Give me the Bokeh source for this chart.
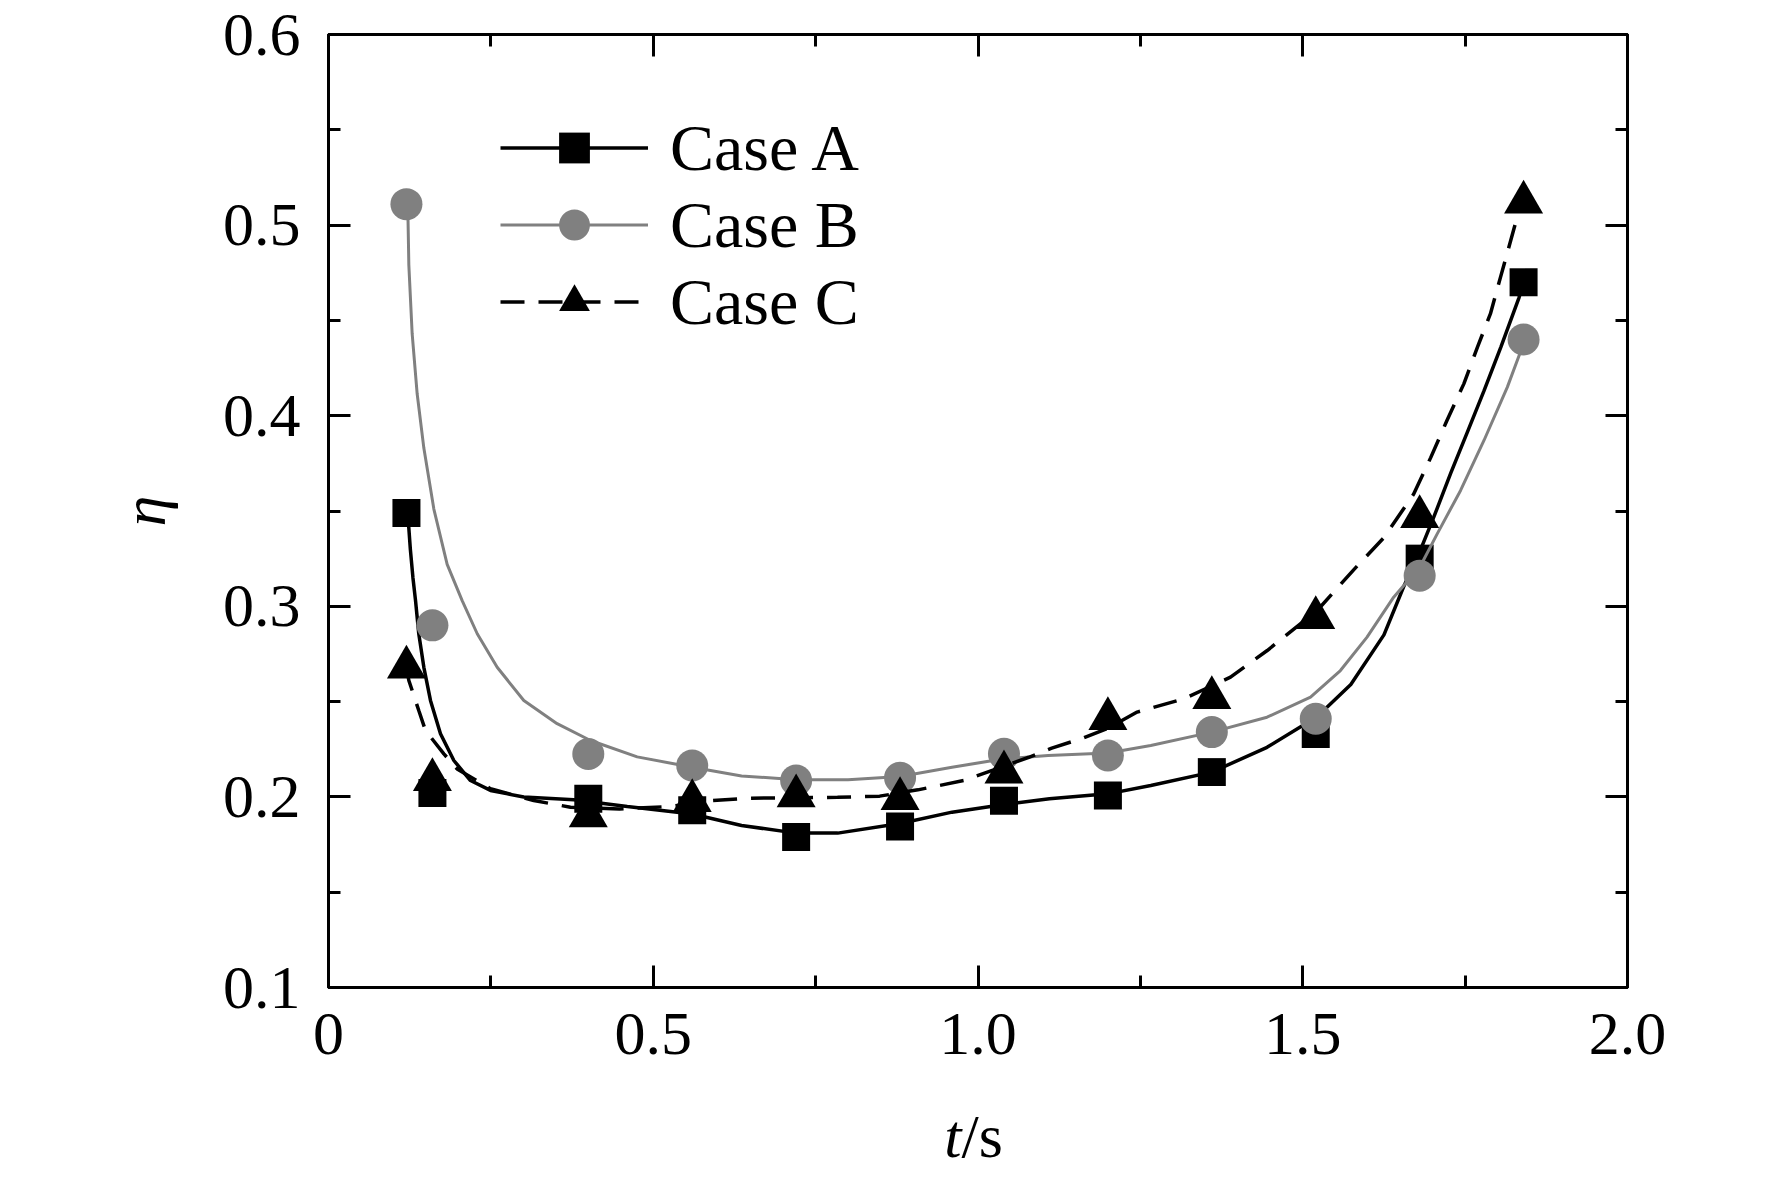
from bokeh.plotting import figure
from bokeh.models import (Range1d, FixedTicker, LinearAxis, Legend, LegendItem,
                          Label, CustomJSTickFormatter)
from bokeh.embed import file_html
from bokeh.resources import INLINE

# ---------------- data ----------------
t = [0.12, 0.16, 0.40, 0.56, 0.72, 0.88, 1.04, 1.20, 1.36, 1.52, 1.68, 1.84]
case_a = [0.349, 0.202, 0.199, 0.193, 0.179, 0.1845, 0.198, 0.2007, 0.213, 0.233, 0.325, 0.470]
case_b = [0.511, 0.290, 0.2225, 0.2165, 0.2086, 0.210, 0.2226, 0.2217, 0.234, 0.241, 0.316, 0.440]
case_c = [0.268, 0.209, 0.190, 0.198, 0.2005, 0.199, 0.213, 0.241, 0.252, 0.294, 0.347, 0.512]

# fitted curves
fit_a_x = [0.122, 0.126, 0.130, 0.134, 0.139, 0.1468, 0.157, 0.1724, 0.193, 0.2186, 0.2494,
           0.3007, 0.3777, 0.46, 0.56, 0.636, 0.72, 0.784, 0.88, 0.96, 1.04, 1.11, 1.20, 1.266,
           1.36, 1.445, 1.522, 1.574, 1.625, 1.655, 1.683, 1.702, 1.728, 1.753, 1.779, 1.805,
           1.833, 1.840]
fit_a_y = [0.349, 0.330, 0.315, 0.303, 0.2856, 0.268, 0.2506, 0.2331, 0.2191, 0.2086, 0.2034,
           0.1999, 0.1985, 0.195, 0.191, 0.185, 0.181, 0.181, 0.186, 0.192, 0.196, 0.199, 0.2016,
           0.206, 0.213, 0.226, 0.242, 0.259, 0.285, 0.310, 0.331, 0.347, 0.370, 0.391, 0.413,
           0.436, 0.462, 0.470]

fit_b_x = [0.122, 0.1237, 0.1288, 0.1365, 0.1468, 0.1622, 0.1827, 0.2058, 0.229, 0.2597,
           0.3007, 0.352, 0.4034, 0.4753, 0.56, 0.636, 0.72, 0.80, 0.88, 0.96, 1.04, 1.108,
           1.20, 1.266, 1.36, 1.445, 1.512, 1.558, 1.599, 1.640, 1.681, 1.707, 1.743, 1.779,
           1.815, 1.838, 1.840]
fit_b_y = [0.511, 0.479, 0.443, 0.4115, 0.383, 0.351, 0.322, 0.303, 0.2856, 0.268,
           0.2506, 0.2384, 0.2296, 0.221, 0.2156, 0.211, 0.209, 0.209, 0.2107, 0.2156, 0.220,
           0.2217, 0.223, 0.227, 0.234, 0.2418, 0.2523, 0.2663, 0.2838, 0.3048, 0.321, 0.338,
           0.3608, 0.387, 0.415, 0.436, 0.440]

fit_c_x = [0.12, 0.1237, 0.139, 0.1494, 0.1776, 0.198, 0.2494, 0.316, 0.3726, 0.448, 0.527,
           0.589, 0.648, 0.7837, 0.8485, 0.9075, 0.9782, 1.0783, 1.1136, 1.163, 1.20, 1.245,
           1.3169, 1.3888, 1.4453, 1.5222, 1.578, 1.6248, 1.671, 1.697, 1.722, 1.748, 1.769,
           1.789, 1.8045, 1.817, 1.83, 1.84]
fit_c_y = [0.268, 0.2611, 0.2453, 0.2348, 0.2226, 0.2147, 0.2043, 0.1981, 0.1946, 0.1937, 0.1950,
           0.198, 0.1993, 0.1998, 0.2004, 0.2037, 0.2086, 0.2208, 0.2256, 0.231, 0.236, 0.2445,
           0.2515, 0.2628, 0.2768, 0.2978, 0.319, 0.336, 0.359, 0.378, 0.3975, 0.4167, 0.436,
           0.4535, 0.4727, 0.488, 0.504, 0.512]

x_ticks = [0, 0.5, 1.0, 1.5, 2.0]
x_tick_labels = ["0", "0.5", "1.0", "1.5", "2.0"]
x_minor = [0.25, 0.75, 1.25, 1.75]
y_ticks = [0.1, 0.2, 0.3, 0.4, 0.5, 0.6]
y_tick_labels = ["0.1", "0.2", "0.3", "0.4", "0.5", "0.6"]
y_minor = [0.15, 0.25, 0.35, 0.45, 0.55]
series_names = ["Case A", "Case B", "Case C"]

# ---------------- styling ----------------
FONT = "Liberation Serif"
GRAY = "#808080"

p = figure(width=1772, height=1177, x_range=Range1d(0, 2), y_range=Range1d(0.1, 0.6),
           output_backend="svg", toolbar_location=None,
           min_border_left=328, min_border_right=145, min_border_top=34, min_border_bottom=190)
p.grid.visible = False
p.outline_line_color = "black"
p.outline_line_width = 3
p.background_fill_color = "white"
p.border_fill_color = "white"


def style_axis(ax, ticks, minor, labels, show_labels, standoff):
    ax.ticker = FixedTicker(ticks=ticks, minor_ticks=minor)
    ax.axis_line_width = 3
    ax.axis_line_color = "black"
    ax.major_tick_in = 22
    ax.major_tick_out = 0
    ax.minor_tick_in = 12
    ax.minor_tick_out = 0
    ax.major_tick_line_width = 3
    ax.minor_tick_line_width = 3
    ax.major_tick_line_color = "black"
    ax.minor_tick_line_color = "black"
    if show_labels:
        ax.major_label_overrides = {tk: lb for tk, lb in zip(ticks, labels)}
        ax.major_label_text_font = FONT
        ax.major_label_text_font_size = "62px"
        ax.major_label_text_color = "black"
        ax.major_label_standoff = standoff
    else:
        ax.formatter = CustomJSTickFormatter(code="return ''")
        ax.major_label_standoff = 0
        ax.major_label_text_font_size = "1px"


style_axis(p.xaxis[0], x_ticks, x_minor, x_tick_labels, True, 26)
style_axis(p.yaxis[0], y_ticks, y_minor, y_tick_labels, True, 28)

p.yaxis[0].axis_label = "η"
p.yaxis[0].axis_label_text_font = FONT
p.yaxis[0].axis_label_text_font_style = "italic"
p.yaxis[0].axis_label_text_font_size = "62px"
p.yaxis[0].axis_label_text_color = "black"
p.yaxis[0].axis_label_standoff = 42

top_ax = LinearAxis()
right_ax = LinearAxis()
style_axis(top_ax, x_ticks, x_minor, x_tick_labels, False, 0)
style_axis(right_ax, y_ticks, y_minor, y_tick_labels, False, 0)
p.add_layout(top_ax, "above")
p.add_layout(right_ax, "right")

# ---------------- glyphs ----------------
la = p.line(fit_a_x, fit_a_y, line_color="black", line_width=3.5)
ma = p.scatter(t, case_a, marker="square", size=28, fill_color="black", line_color=None)

lb = p.line(fit_b_x, fit_b_y, line_color=GRAY, line_width=3)
mb = p.scatter(t, case_b, marker="circle", size=32, fill_color=GRAY, line_color=None)

lc = p.line(fit_c_x, fit_c_y, line_color="black", line_width=3.5, line_dash="24 14")
mc = p.scatter(t, case_c, marker="triangle", size=39, fill_color="black", line_color=None)

legend = Legend(items=[LegendItem(label=series_names[0], renderers=[la, ma]),
                       LegendItem(label=series_names[1], renderers=[lb, mb]),
                       LegendItem(label=series_names[2], renderers=[lc, mc])],
                location=(172, 647), orientation="vertical")
legend.glyph_width = 148
legend.glyph_height = 77
legend.spacing = 0
legend.padding = 0
legend.margin = 0
legend.label_standoff = 22
legend.label_text_font = FONT
legend.label_text_font_size = "66px"
legend.label_text_color = "black"
legend.label_text_baseline = "middle"
legend.border_line_color = None
legend.background_fill_alpha = 0
p.add_layout(legend, "center")

# ---------------- x axis title: italic t + upright /s ----------------
p.add_layout(Label(x=0.9746, y=0.0223, text="t", text_font=FONT, text_font_style="italic",
                   text_font_size="62px", text_align="right", text_baseline="alphabetic",
                   text_color="black"), "left")
p.add_layout(Label(x=0.9746, y=0.0223, text="/s", text_font=FONT, text_font_style="normal",
                   text_font_size="62px", text_align="left", text_baseline="alphabetic",
                   text_color="black"), "left")

open("out.html", "w").write(file_html(p, INLINE))
